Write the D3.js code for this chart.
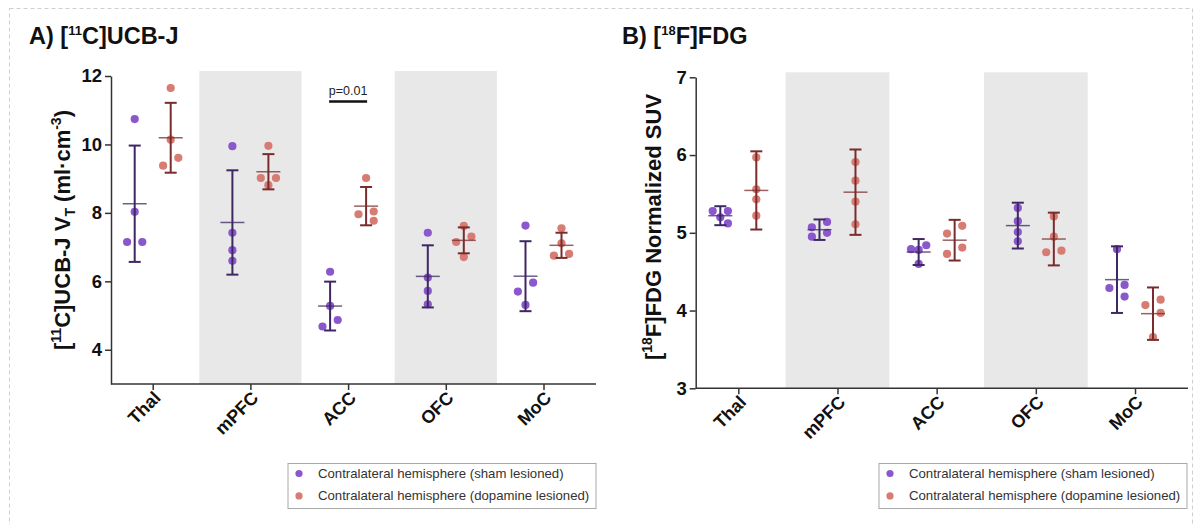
<!DOCTYPE html>
<html>
<head>
<meta charset="utf-8">
<script src="https://cdn.jsdelivr.net/npm/d3@7"></script>
<style>
  html, body { margin: 0; padding: 0; background: #fff; }
  svg { display: block; font-family: "Liberation Sans", Arial, sans-serif; }
</style>
</head>
<body>
<svg id="chart" width="1201" height="525"></svg>
<script>
// ---------------- DATA ----------------
const categories = ["Thal", "mPFC", "ACC", "OFC", "MoC"];
const seriesNames = ["Contralateral hemisphere (sham lesioned)", "Contralateral hemisphere (dopamine lesioned)"];

// A) [11C]UCB-J  VT (ml·cm-3), 4 animals per group
const ucbSham = [
  [10.74, 8.03, 7.15, 7.15],
  [9.95, 7.42, 6.91, 6.60],
  [6.28, 5.28, 4.87, 4.68],
  [7.42, 6.11, 5.72, 5.33],
  [7.63, 5.96, 5.70, 5.31]
];
const ucbLesion = [
  [11.65, 10.14, 9.61, 9.38],
  [9.96, 9.02, 9.02, 8.81],
  [9.02, 8.04, 7.96, 7.77],
  [7.62, 7.31, 7.15, 6.71],
  [7.55, 7.11, 6.80, 6.75]
];
const ucbTicks = [4, 6, 8, 10, 12];
const ucbDomain = [3, 12];

// B) [18F]FDG normalized SUV
const fdgSham = [
  [5.28, 5.28, 5.20, 5.12],
  [5.14, 5.07, 5.00, 4.95],
  [4.84, 4.79, 4.78, 4.60],
  [5.32, 5.15, 5.01, 4.89],
  [4.79, 4.33, 4.29, 4.18]
];
const fdgLesion = [
  [5.97, 5.56, 5.43, 5.22],
  [5.91, 5.67, 5.40, 5.11],
  [5.09, 4.99, 4.81, 4.73],
  [5.21, 4.95, 4.77, 4.75],
  [4.14, 4.07, 3.97, 3.66]
];
const fdgTicks = [3, 4, 5, 6, 7];
const fdgDomain = [3, 7];

const shadedCategories = ["mPFC", "OFC"];
const pAnnotation = { category: "ACC", label: "p=0.01" };

// ---------------- STYLE ----------------
const pointColor = ["#8a58cc", "#d77c73"];
const barColor = ["#3e2763", "#7a2b2c"];
const bandColor = "#e8e8e8";
const axisColor = "#333";

const svg = d3.select("#chart");

// dashed outer frame
svg.append("rect")
  .attr("x", 9.5).attr("y", 8.5).attr("width", 1183).attr("height", 540)
  .attr("fill", "none").attr("stroke", "#cfcfcf").attr("stroke-width", 1)
  .attr("stroke-dasharray", "4,3");

// t quantile for 95% CI with n-1 = 3
const t95_df3 = 3.182;

const panels = [
  {
    sham: ucbSham, lesion: ucbLesion, ticks: ucbTicks, domain: ucbDomain,
    xFirst: 152.7, xLast: 543.5, axisLeft: 111, axisRight: 596,
    yTop: 76, yBottom: 384, bandTop: 71,
    errType: "sd", annotate: true,
    titleX: 29, legendX: 288, ylabelX: 70
  },
  {
    sham: fdgSham, lesion: fdgLesion, ticks: fdgTicks, domain: fdgDomain,
    xFirst: 738.3, xLast: 1135, axisLeft: 695.7, axisRight: 1188,
    yTop: 77.3, yBottom: 388.3, bandTop: 72.3,
    errType: "ci", annotate: false,
    titleX: 622, legendX: 879, ylabelX: 661
  }
];

function swarm(vals, y, s, thr) {
  const pts = vals.map(v => ({ v, py: y(v) })).sort((a, b) => a.py - b.py);
  const placed = [];
  pts.forEach(p => {
    const isolated = !pts.some(q => q !== p && Math.abs(q.py - p.py) < thr);
    const cands = isolated ? [0] : [s, -s, 0, 2 * s, -2 * s];
    for (const c of cands) {
      const hit = placed.some(q => Math.hypot(q.dx - c, q.py - p.py) < thr);
      if (!hit) { p.dx = c; break; }
    }
    if (p.dx === undefined) p.dx = 0;
    placed.push(p);
  });
  return pts;
}

panels.forEach((P, pi) => {
  const g = svg.append("g");
  const x = d3.scalePoint().domain(categories).range([P.xFirst, P.xLast]);
  const step = x.step();
  const y = d3.scaleLinear().domain(P.domain).range([P.yBottom, P.yTop]);
  const groupOffset = 18;

  // shaded category bands
  g.selectAll("rect.band").data(shadedCategories).join("rect")
    .attr("class", "band")
    .attr("x", d => x(d) - step * 0.523)
    .attr("width", step * 1.046)
    .attr("y", P.bandTop)
    .attr("height", P.yBottom - P.bandTop)
    .attr("fill", bandColor);

  // y axis
  const yAxis = d3.axisLeft(y).tickValues(P.ticks).tickFormat(d3.format("d"))
    .tickSize(6).tickSizeOuter(0).tickPadding(3);
  const ya = g.append("g").attr("transform", `translate(${P.axisLeft},0)`).call(yAxis);
  ya.select(".domain").attr("stroke", axisColor).attr("stroke-width", 1.5);
  ya.selectAll(".tick line").attr("stroke", axisColor).attr("stroke-width", 1.5);
  ya.selectAll(".tick text").attr("font-size", 18.5).attr("font-weight", "bold").attr("fill", "#111")
    .attr("font-family", "'Liberation Sans', Arial, sans-serif");

  // x axis
  g.append("line")
    .attr("x1", P.axisLeft).attr("x2", P.axisRight)
    .attr("y1", P.yBottom).attr("y2", P.yBottom)
    .attr("stroke", axisColor).attr("stroke-width", 1.5);
  const xAxis = d3.axisBottom(x).tickSize(6).tickSizeOuter(0).tickFormat("");
  const xa = g.append("g").attr("transform", `translate(0,${P.yBottom})`).call(xAxis);
  xa.select(".domain").remove();
  xa.selectAll(".tick line").attr("stroke", axisColor).attr("stroke-width", 1.5);
  g.selectAll("text.cat").data(categories).join("text")
    .attr("class", "cat")
    .attr("transform", d => `translate(${x(d) + 9},${P.yBottom + 15}) rotate(-45)`)
    .attr("text-anchor", "end")
    .attr("font-size", 18).attr("font-weight", "bold").attr("fill", "#111")
    .text(d => d);

  // data groups
  [P.sham, P.lesion].forEach((series, si) => {
    const off = si === 0 ? -groupOffset : groupOffset;
    series.forEach((vals, ci) => {
      const cx = x(categories[ci]) + off;
      const m = d3.mean(vals);
      const sd = d3.deviation(vals);
      const err = P.errType === "sd" ? sd : t95_df3 * sd / Math.sqrt(vals.length);

      const pts = swarm(vals, y, 7.6, 9);
      g.selectAll(null).data(pts).join("circle")
        .attr("cx", d => cx + d.dx)
        .attr("cy", d => d.py)
        .attr("r", 4.1)
        .attr("fill", pointColor[si]);

      const gb = g.append("g").attr("stroke", barColor[si]).attr("stroke-width", 2);
      gb.append("line").attr("x1", cx).attr("x2", cx).attr("y1", y(m - err)).attr("y2", y(m + err));
      gb.append("line").attr("x1", cx - 6).attr("x2", cx + 6).attr("y1", y(m + err)).attr("y2", y(m + err));
      gb.append("line").attr("x1", cx - 6).attr("x2", cx + 6).attr("y1", y(m - err)).attr("y2", y(m - err));
      gb.append("line").attr("x1", cx - 12).attr("x2", cx + 12).attr("y1", y(m)).attr("y2", y(m))
        .attr("stroke-width", 1.5).attr("stroke-opacity", 0.75);
    });
  });

  // significance annotation
  if (P.annotate) {
    const ax = x(pAnnotation.category);
    g.append("line")
      .attr("x1", ax - groupOffset - 1).attr("x2", ax + groupOffset + 1)
      .attr("y1", P.yTop + 25.5).attr("y2", P.yTop + 25.5)
      .attr("stroke", "#111").attr("stroke-width", 2.5);
    g.append("text")
      .attr("x", ax).attr("y", P.yTop + 18.5)
      .attr("text-anchor", "middle").attr("font-size", 12.5).attr("fill", "#222")
      .text(pAnnotation.label);
  }

  // y-axis label
  const yl = g.append("text")
    .attr("transform", `translate(${P.ylabelX},${pi === 0 ? 230 : 227}) rotate(-90)`)
    .attr("text-anchor", "middle")
    .attr("font-size", 22).attr("font-weight", "bold").attr("fill", "#111");
  if (pi === 0) {
    yl.append("tspan").text("[");
    yl.append("tspan").attr("font-size", 14).attr("dy", -9).text("11");
    yl.append("tspan").attr("dy", 9).text("C]UCB-J V");
    yl.append("tspan").attr("font-size", 14).attr("dy", 5).text("T");
    yl.append("tspan").attr("dy", -5).text(" (ml·cm");
    yl.append("tspan").attr("font-size", 14).attr("dy", -9).text("-3");
    yl.append("tspan").attr("dy", 9).text(")");
  } else {
    yl.append("tspan").text("[");
    yl.append("tspan").attr("font-size", 14).attr("dy", -9).text("18");
    yl.append("tspan").attr("dy", 9).text("F]FDG Normalized SUV");
  }

  // panel title
  const tt = svg.append("text")
    .attr("x", P.titleX).attr("y", 44)
    .attr("font-size", 23.5).attr("font-weight", "bold").attr("fill", "#111");
  tt.append("tspan").text(pi === 0 ? "A) [" : "B) [");
  tt.append("tspan").attr("font-size", 13).attr("dy", -9).text(pi === 0 ? "11" : "18");
  tt.append("tspan").attr("dy", 9).text(pi === 0 ? "C]UCB-J" : "F]FDG");

  // legend
  const lg = svg.append("g").attr("transform", `translate(${P.legendX},463.5)`);
  lg.append("rect").attr("width", 308).attr("height", 45)
    .attr("fill", "#fff").attr("stroke", "#a8a8a8").attr("stroke-width", 1);
  seriesNames.forEach((name, i) => {
    lg.append("circle").attr("cx", 11).attr("cy", 10 + i * 22.4).attr("r", 3.6).attr("fill", pointColor[i]);
    lg.append("text").attr("x", 30).attr("y", 10 + i * 22.4)
      .attr("dominant-baseline", "central")
      .attr("font-size", 13.2).attr("fill", "#333").text(name);
  });
});
</script>
</body>
</html>
